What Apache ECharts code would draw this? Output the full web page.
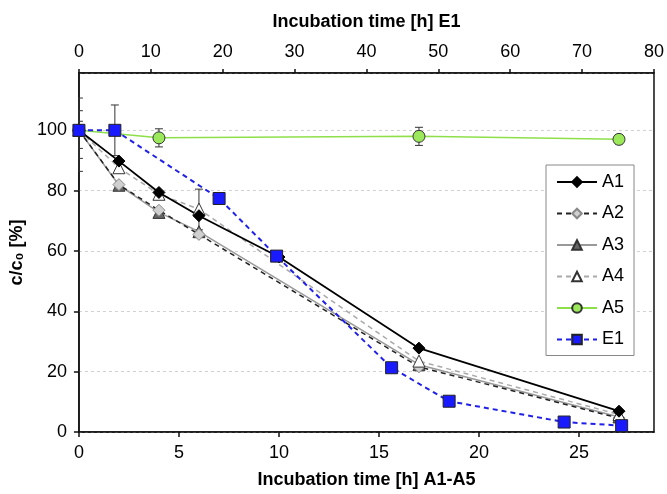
<!DOCTYPE html>
<html>
<head>
<meta charset="utf-8">
<script src="https://cdn.jsdelivr.net/npm/echarts@6/dist/echarts.min.js"></script>
<style>
  html, body { margin: 0; padding: 0; background: #fff; }
  #chart { width: 667px; height: 494px; }
</style>
</head>
<body>
<div id="chart"></div>
<script>
// sampling times [h]
const timeA1 = [0, 2, 4, 6, 10, 17, 27]
const timeA = [0, 2, 4, 6, 17, 27]
const timeA5 = [0, 4, 17, 27]
const timeE1 = [0, 5, 19.5, 27.5, 43.5, 51.5, 67.5, 75.5]

// c/c0 [%]
const a1 = [100, 89.8, 79.4, 71.7, 58.0, 27.8, 6.9]
const a2 = [100, 82.0, 73.5, 65.5, 21.6, 4.6]
const a3 = [100, 81.8, 72.8, 66.4, 22.3, 5.0]
const a4 = [100, 87.6, 78.8, 73.9, 23.5, 5.8]
const a5 = [100, 97.5, 98.0, 97.0]
const e1 = [100, 100, 77.4, 58.3, 21.3, 10.2, 3.3, 2.1]

// error bars (bottom axis A1-A5)
const errAx = [0, 0, 0, 4, 6, 17, 27]
const errAlo = [86.4, 90.7, 94.0, 94.5, 67.0, 95.0, 95.5]
const errAhi = [110.7, 106.5, 103.0, 100.5, 80.5, 101.0, 98.5]
// error bars (top axis E1)
const errEx = [5]
const errElo = [91.6]
const errEhi = [108.4]

const font = '"Liberation Sans", Arial, sans-serif'

const zip = (xs, ys) => xs.map((x, i) => [x, ys[i]])
const zip3 = (xs, lo, hi) => xs.map((x, i) => [x, lo[i], hi[i]])

const errorBar = (params, api) => {
  const x = api.value(0)
  const top = api.coord([x, api.value(2)])
  const bot = api.coord([x, api.value(1)])
  const w = 4
  const st = { stroke: '#333', lineWidth: 1 }
  return {
    type: 'group',
    children: [
      { type: 'line', shape: { x1: top[0], y1: top[1], x2: bot[0], y2: bot[1] }, style: st },
      { type: 'line', shape: { x1: top[0] - w, y1: top[1], x2: top[0] + w, y2: top[1] }, style: st },
      { type: 'line', shape: { x1: bot[0] - w, y1: bot[1], x2: bot[0] + w, y2: bot[1] }, style: st }
    ]
  }
}

const chart = echarts.init(document.getElementById('chart'))

const option = {
  animation: false,
  textStyle: { fontFamily: font },
  grid: {
    left: 78, right: 13, top: 73, bottom: 60,
    show: true, borderColor: '#111', borderWidth: 1.5, backgroundColor: 'transparent'
  },
  legend: {
    orient: 'vertical',
    left: 546, top: 165,
    padding: [8, 10, 7, 10],
    backgroundColor: '#fff',
    borderColor: '#888',
    borderWidth: 1,
    borderRadius: 0,
    itemWidth: 40,
    itemHeight: 12,
    itemGap: 13.5,
    textStyle: { fontSize: 18, color: '#000', fontFamily: font, lineHeight: 18 },
    data: ['A1', 'A2', 'A3', 'A4', 'A5', 'E1']
  },
  xAxis: [
    {
      type: 'value', position: 'bottom',
      min: 0, max: 28.75, interval: 5,
      name: 'Incubation time [h] A1-A5',
      nameLocation: 'middle', nameGap: 39,
      nameTextStyle: { fontSize: 18, fontWeight: 'bold', color: '#000' },
      axisLine: { lineStyle: { color: '#111', width: 1.5 } },
      axisTick: { inside: false, length: 5, lineStyle: { color: '#111', width: 1.5 } },
      axisLabel: { fontSize: 18, color: '#000', margin: 12, showMaxLabel: false },
      splitLine: { show: false }
    },
    {
      type: 'value', position: 'top',
      min: 0, max: 80, interval: 10,
      name: 'Incubation time [h] E1',
      nameLocation: 'middle', nameGap: 42,
      nameTextStyle: { fontSize: 18, fontWeight: 'bold', color: '#000' },
      axisLine: { lineStyle: { color: '#111', width: 1.5 } },
      axisTick: { inside: false, length: 4, lineStyle: { color: '#111', width: 1.5 } },
      axisLabel: { fontSize: 18, color: '#000', margin: 12 },
      splitLine: { show: false }
    }
  ],
  yAxis: {
    type: 'value',
    min: 0, max: 119, interval: 20,
    name: 'c/c₀ [%]',
    nameLocation: 'middle', nameGap: 46,
    nameTextStyle: { fontSize: 18, fontWeight: 'bold', color: '#000' },
    axisLine: { show: true, lineStyle: { color: '#111', width: 1.5 } },
    axisTick: { show: true, length: 5, lineStyle: { color: '#111', width: 1.5 } },
    axisLabel: { fontSize: 18, color: '#000', margin: 12, showMaxLabel: false },
    splitLine: { show: true, lineStyle: { color: '#d0d0d0', type: [3, 3], width: 1 } }
  },
  series: [
    {
      type: 'custom', xAxisIndex: 0, clip: true, z: 1,
      renderItem: errorBar,
      data: zip3(errAx, errAlo, errAhi)
    },
    {
      type: 'custom', xAxisIndex: 1, clip: true, z: 1,
      renderItem: errorBar,
      data: zip3(errEx, errElo, errEhi)
    },
    {
      name: 'A3', type: 'line', xAxisIndex: 0,
      data: zip(timeA, a3),
      symbol: 'triangle', symbolSize: 12,
      lineStyle: { color: '#999', width: 1.5 },
      itemStyle: { color: '#666', borderColor: '#333', borderWidth: 1 }
    },
    {
      name: 'A2', type: 'line', xAxisIndex: 0,
      data: zip(timeA, a2),
      symbol: 'diamond', symbolSize: 12,
      lineStyle: { color: '#222', width: 1.5, type: [5, 4] },
      itemStyle: { color: '#d0d0d0', borderColor: '#888', borderWidth: 1 }
    },
    {
      name: 'A4', type: 'line', xAxisIndex: 0,
      data: zip(timeA, a4),
      symbol: 'triangle', symbolSize: 12,
      lineStyle: { color: '#aaa', width: 1.5, type: [5, 4] },
      itemStyle: { color: '#fff', borderColor: '#333', borderWidth: 1 }
    },
    {
      name: 'A1', type: 'line', xAxisIndex: 0,
      data: zip(timeA1, a1),
      symbol: 'diamond', symbolSize: 12,
      lineStyle: { color: '#000', width: 1.8 },
      itemStyle: { color: '#000', borderColor: '#000', borderWidth: 1 }
    },
    {
      name: 'A5', type: 'line', xAxisIndex: 0,
      data: zip(timeA5, a5),
      symbol: 'circle', symbolSize: 12,
      lineStyle: { color: '#8ee04a', width: 1.5 },
      itemStyle: { color: '#9be85a', borderColor: '#333', borderWidth: 1 }
    },
    {
      name: 'E1', type: 'line', xAxisIndex: 1,
      data: zip(timeE1, e1),
      symbol: 'rect', symbolSize: 12,
      lineStyle: { color: '#2020e8', width: 2, type: [5, 4] },
      itemStyle: { color: '#1a1aff', borderColor: '#222', borderWidth: 1 }
    }
  ]
}

chart.setOption(option)
</script>
</body>
</html>
